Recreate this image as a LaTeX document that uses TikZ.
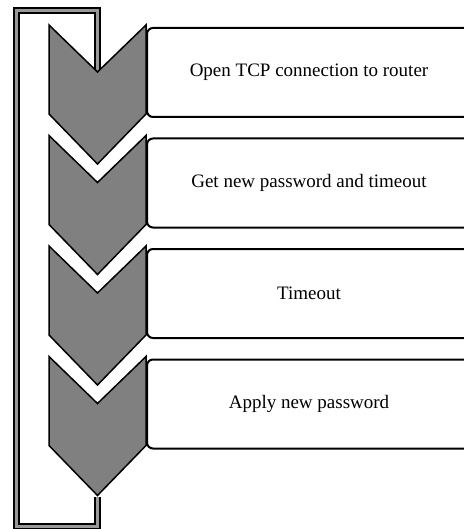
\documentclass[tikz,border=0pt]{standalone}
\usepackage{fontspec}
\setmainfont{Liberation Serif}
\tikzset{
  chevron/.style={draw=black,line width=1.5pt,fill=black!50,line join=miter},
  stepbox/.style={draw=black,line width=2pt,rounded corners=6pt,minimum width=324pt,minimum height=89pt,anchor=north west,inner sep=0pt,font=\fontsize{19}{23}\selectfont},
  loopline/.style={line width=2pt,double=black!40,double distance=3pt},
}
\begin{document}
\begin{tikzpicture}[x=1pt,y=-1pt]
\useasboundingbox (0,0) rectangle (463,529);
% loop back from the last step to the first
\coordinate (loopin) at (97.5,72);
\coordinate (loopout) at (97.5,497);
\draw[loopline] (loopin) -- (97.5,11) -- (16.5,11) -- (16.5,526) -- (97.5,526) -- (loopout);
\foreach \i/\txt in {0/Open TCP connection to router,1/Get new password and timeout,2/Timeout,3/Apply new password}{
  \pgfmathsetmacro{\ytop}{25+110.5*\i}
  \draw[chevron] (49,\ytop) -- (97.5,\ytop+47) -- (146,\ytop) -- (146,\ytop+89) -- (97.5,\ytop+139) -- (49,\ytop+89) -- cycle;
  \node[stepbox] (step\i) at (146,\ytop+2) {\txt};
}
\end{tikzpicture}
\end{document}
